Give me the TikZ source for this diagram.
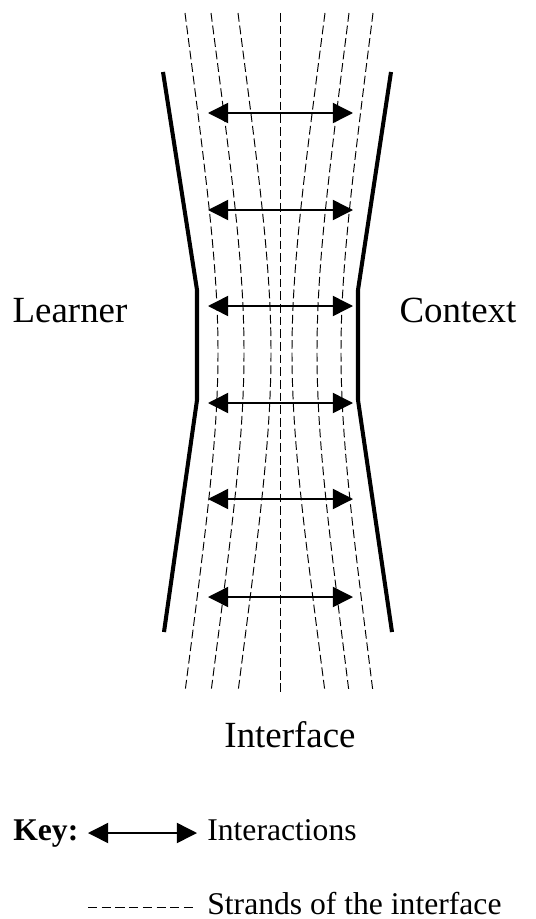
\documentclass[tikz,border=0pt]{standalone}
\usepackage{fontspec}
\setmainfont{Liberation Serif}
\usetikzlibrary{
  arrows.meta
}

\tikzset{
  boundary/.style={line width=2.3pt, line join=round},
  strand/.style={line width=0.55pt, dash pattern=on 5pt off 2.2pt},
  interaction/.style={line width=0.85pt, {Triangle[length=11.5pt,width=11.5pt]}-{Triangle[length=11.5pt,width=11.5pt]}},
  biglabel/.style={font=\fontsize{21}{24}\selectfont, anchor=base, inner sep=0pt},
  keylabel/.style={font=\fontsize{18}{21}\selectfont, anchor=base west, inner sep=0pt}
}

\begin{document}
\begin{tikzpicture}[x=0.02cm, y=-0.02cm]
  \useasboundingbox (0,0) rectangle (536,919);

  \foreach \t/\m [count=\i] in {185/218,211/244,238/271,280/280,325/292,349/317,373/341} {
      \coordinate (top\i) at (\t,13);
      \coordinate (bot\i) at (\t,692);
      \draw[strand] (top\i) .. controls ({(4*\m-\t)/3},352) .. (bot\i);
    }

  \draw[boundary] (163,72) -- (197,290) -- (197,400) -- (164,632);
  \draw[boundary] (391,72) -- (358,290) -- (358,400) -- (392,632);

  \foreach \y [count=\i] in {113,210,306,403,499,597} {
      \coordinate (left\i) at (208,\y);
      \coordinate (right\i) at (353,\y);
      \draw[interaction] (left\i) -- (right\i);
    }

  \node[biglabel] (learner) at (70,322) {Learner};
  \node[biglabel] (context) at (458,322) {Context};
  \node[biglabel] (interface) at (290,747) {Interface};

  % key
  \node[keylabel] (key) at (13,840) {\textbf{Key:}};
  \coordinate (keyA) at (88,833);
  \coordinate (keyB) at (197,833);
  \draw[interaction] (keyA) -- (keyB);
  \node[keylabel] (interactions) at (207,840) {Interactions};
  \coordinate (keyC) at (88,907);
  \coordinate (keyD) at (193,907);
  \draw[strand, dash pattern=on 5.2pt off 2.6pt] (keyC) -- (keyD);
  \node[keylabel] (strands) at (207,914) {Strands of the interface};
\end{tikzpicture}
\end{document}
